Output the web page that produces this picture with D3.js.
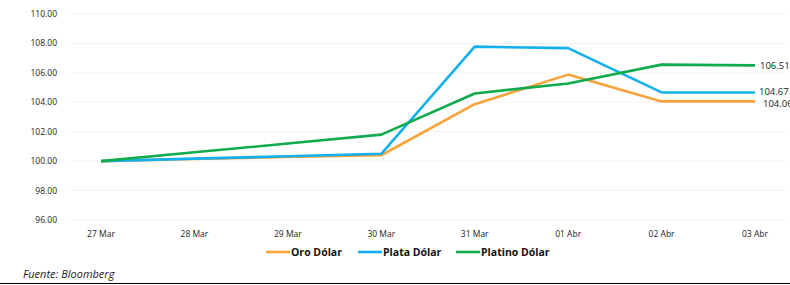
<!DOCTYPE html>
<html>
<head>
<meta charset="utf-8">
<script src="https://cdn.jsdelivr.net/npm/d3@7"></script>
<style>
  body { margin: 0; background: #fff; }
  text { font-family: "Open Sans", "Noto Sans", sans-serif; fill: #222; }
  .tick-label { font-size: 8.5px; }
  .legend-label { font-size: 10.5px; font-weight: bold; fill: #111; }
  .end-label { font-size: 9.5px; }
  .source { font-size: 11px; font-style: italic; }
</style>
</head>
<body>
<div id="graphic"></div>
<script>
(function(d3){

    // Canvas size
    let width = 790, height = 285;

    // Plot area
    let left = 70, right = 786, top = 14, bottom = 220;

    // Chart data
    let dates = ['27 Mar', '28 Mar', '29 Mar', '30 Mar', '31 Mar', '01 Abr', '02 Abr', '03 Abr'];
    let oro = [100.00, 100.15, 100.28, 100.40, 103.87, 105.88, 104.06, 104.06];
    let plata = [100.00, 100.17, 100.33, 100.50, 107.78, 107.68, 104.67, 104.67];
    let platino = [100.00, 100.60, 101.20, 101.80, 104.60, 105.28, 106.56, 106.51];
    let yTicks = [96, 98, 100, 102, 104, 106, 108, 110];

    let series = [
        { name: 'Oro Dólar', values: oro, color: '#f9a33b', label: '104.06', dx: 8, dy: 3 },
        { name: 'Plata Dólar', values: plata, color: '#12b0ef', label: '104.67', dx: 4, dy: 0 },
        { name: 'Platino Dólar', values: platino, color: '#0fab4d', label: '106.51', dx: 5, dy: 1 }
    ];

    let svg = d3.select('#graphic')
                .append('svg')
                .attr('width', width)
                .attr('height', height);

    let x = d3.scalePoint()
        .domain(dates)
        .range([101, 755]);

    let y = d3.scaleLinear()
        .domain([96, 110])
        .range([bottom, top]);

    // Faint gridlines
    yTicks.forEach(t => {
        svg.append('line')
           .attr('x1', left)
           .attr('x2', right)
           .attr('y1', y(t))
           .attr('y2', y(t))
           .attr('stroke', '#f3f3f3')
           .attr('stroke-width', 1);
    });

    // Y labels
    yTicks.forEach(t => {
        svg.append('text')
           .attr('x', 57)
           .attr('y', y(t) + 3)
           .attr('text-anchor', 'end')
           .attr('class', 'tick-label')
           .text(d3.format('.2f')(t));
    });

    // X labels
    dates.forEach(dt => {
        svg.append('text')
           .attr('x', x(dt))
           .attr('y', 237)
           .attr('text-anchor', 'middle')
           .attr('class', 'tick-label')
           .text(dt);
    });

    let line = d3.line()
        .x((d, i) => x(dates[i]))
        .y(d => y(d));

    // Lines
    series.forEach(s => {
        svg.append('path')
           .datum(s.values)
           .attr('d', line)
           .attr('fill', 'none')
           .attr('stroke', s.color)
           .attr('stroke-width', 2.6)
           .attr('stroke-linejoin', 'round');

        let last = s.values[s.values.length - 1];
        svg.append('text')
           .attr('x', x(dates[dates.length - 1]) + s.dx)
           .attr('y', y(last) + 3 + s.dy)
           .attr('class', 'end-label')
           .text(s.label);
    });

    // Legend
    let legendX = [266, 358, 456];
    series.forEach((s, i) => {
        svg.append('line')
           .attr('x1', legendX[i])
           .attr('x2', legendX[i] + 24)
           .attr('y1', 252)
           .attr('y2', 252)
           .attr('stroke', s.color)
           .attr('stroke-width', 2.6);
        svg.append('text')
           .attr('x', legendX[i] + 25)
           .attr('y', 256)
           .attr('class', 'legend-label')
           .text(s.name);
    });

    // Source and bottom rule
    svg.append('text')
       .attr('x', 23)
       .attr('y', 278)
       .attr('class', 'source')
       .text('Fuente: Bloomberg');

    svg.append('line')
       .attr('x1', 0)
       .attr('x2', width)
       .attr('y1', 283.5)
       .attr('y2', 283.5)
       .attr('stroke', '#000')
       .attr('stroke-width', 1.2);

})(window.d3);
</script>
</body>
</html>
